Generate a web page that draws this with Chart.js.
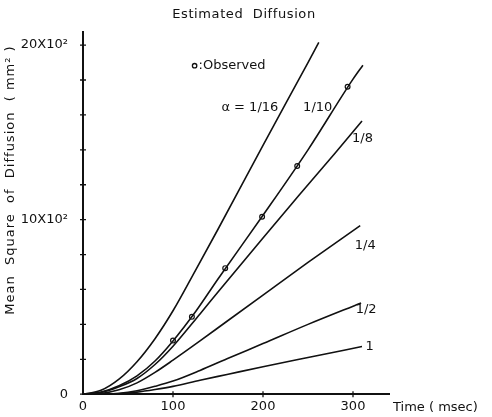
<!DOCTYPE html>
<html>
<head>
<meta charset="utf-8">
<script src="https://cdn.jsdelivr.net/npm/chart.js@4.4.1/dist/chart.umd.min.js"></script>
<style>
  body { margin: 0; background: #fff; }
  canvas { display: block; }
</style>
</head>
<body>
<canvas id="diffusion" width="492" height="417"></canvas>
<script>
// time in msec, mean square of diffusion in mm^2
const tAlpha16 = [0, 20, 40, 60, 80, 100, 125, 150, 200, 250, 262]
const vAlpha16 = [0, 22, 86, 186, 318, 478, 710, 945, 1425, 1900, 2015]

const tAlpha10 = [0, 20, 40, 60, 80, 100, 125, 150, 200, 250, 300, 311]
const vAlpha10 = [0, 12, 48, 105, 190, 305, 472, 660, 1025, 1400, 1805, 1885]

const tAlpha8 = [0, 20, 40, 60, 80, 100, 130, 150, 200, 240, 280, 310]
const vAlpha8 = [0, 10, 42, 90, 170, 275, 460, 585, 895, 1140, 1380, 1565]

const tAlpha4 = [0, 20, 40, 60, 80, 100, 130, 160, 200, 250, 308]
const vAlpha4 = [0, 4, 25, 65, 125, 195, 305, 418, 568, 755, 966]

const tAlpha2 = [0, 20, 40, 60, 80, 100, 130, 160, 200, 250, 309]
const vAlpha2 = [0, 0, 5, 20, 45, 75, 136, 203, 290, 400, 523]

const tAlpha1 = [0, 20, 40, 60, 80, 100, 130, 160, 200, 250, 310]
const vAlpha1 = [0, 0, 3, 12, 27, 45, 80, 113, 157, 210, 273]

const tObserved = [100, 121, 158, 199, 238, 294]
const vObserved = [307, 443, 722, 1017, 1307, 1761]

const xTicks = [0, 100, 200, 300]
const yTicks = [0, 200, 400, 600, 800, 1000, 1200, 1400, 1600, 1800, 2000]
const yTickLabels = {0: '0', 1000: '10X10\u00b2', 2000: '20X10\u00b2'}

const curveLabels = ['\u03b1 = 1/16', '1/10', '1/8', '1/4', '1/2', '1']
// where each curve label sits, in data units
const labelSpots = [
  {t: 217, v: 1643, align: 'right'},
  {t: 277, v: 1643, align: 'right'},
  {t: 299, v: 1462, align: 'left'},
  {t: 302, v: 853, align: 'left'},
  {t: 303, v: 483, align: 'left'},
  {t: 314, v: 273, align: 'left'},
]
const legendSpot = {t: 124, v: 1882}

const FONT = '"DejaVu Sans", sans-serif'
const INK = '#111'

function pairs(ts, vs) {
  return ts.map((t, i) => ({x: t, y: vs[i]}))
}

function curve(ts, vs) {
  return {
    data: pairs(ts, vs),
    borderColor: INK,
    borderWidth: 1.6,
    pointRadius: 0,
    fill: false,
    cubicInterpolationMode: 'monotone',
  }
}

const decorations = {
  id: 'decorations',
  afterDraw(chart) {
    const ctx = chart.ctx
    const {x, y} = chart.scales
    const area = chart.chartArea
    ctx.save()
    ctx.strokeStyle = INK
    ctx.fillStyle = INK
    ctx.lineWidth = 1.3

    // cross ticks on both axes
    ctx.beginPath()
    yTicks.forEach(v => {
      const py = y.getPixelForValue(v)
      ctx.moveTo(area.left - 3, py)
      ctx.lineTo(area.left + 3, py)
    })
    xTicks.slice(1).forEach(t => {
      const px = x.getPixelForValue(t)
      ctx.moveTo(px, area.bottom - 3)
      ctx.lineTo(px, area.bottom + 3)
    })
    ctx.stroke()

    ctx.font = '13px ' + FONT
    ctx.textBaseline = 'middle'

    // title
    ctx.save()
    ctx.textAlign = 'center'
    ctx.letterSpacing = '0.6px'
    ctx.fillText('Estimated  Diffusion', 244, 15)
    ctx.restore()

    // y axis title
    ctx.save()
    ctx.translate(11, 180)
    ctx.rotate(-Math.PI / 2)
    ctx.textAlign = 'center'
    ctx.letterSpacing = '1px'
    ctx.fillText('Mean  Square  of  Diffusion  ( mm\u00b2 )', 0, 0)
    ctx.restore()

    // x axis title
    ctx.textAlign = 'left'
    ctx.fillText('Time ( msec)', area.right + 4, area.bottom + 13)

    // curve labels
    curveLabels.forEach((txt, i) => {
      const s = labelSpots[i]
      ctx.textAlign = s.align
      ctx.fillText(txt, x.getPixelForValue(s.t), y.getPixelForValue(s.v))
    })

    // legend for observed points
    const lx = x.getPixelForValue(legendSpot.t)
    const ly = y.getPixelForValue(legendSpot.v)
    ctx.beginPath()
    ctx.arc(lx, ly, 2.2, 0, Math.PI * 2)
    ctx.stroke()
    ctx.textAlign = 'left'
    ctx.fillText(':Observed', lx + 4, ly)
    ctx.restore()
  }
}

new Chart(document.getElementById('diffusion'), {
  type: 'line',
  data: {
    datasets: [
      curve(tAlpha16, vAlpha16),
      curve(tAlpha10, vAlpha10),
      curve(tAlpha8, vAlpha8),
      curve(tAlpha4, vAlpha4),
      curve(tAlpha2, vAlpha2),
      curve(tAlpha1, vAlpha1),
      {
        data: pairs(tObserved, vObserved),
        showLine: false,
        pointRadius: 2.4,
        pointBorderWidth: 1.2,
        pointBackgroundColor: '#fff',
        pointBorderColor: INK,
      },
    ]
  },
  options: {
    responsive: false,
    animation: false,
    layout: {padding: {left: 0, top: 32, right: 103, bottom: 0}},
    plugins: {legend: {display: false}, tooltip: {enabled: false}},
    scales: {
      x: {
        type: 'linear',
        min: 0,
        max: 340,
        afterBuildTicks: s => { s.ticks = xTicks.map(v => ({value: v})) },
        afterFit: s => { s.height = 20 },
        grid: {display: false, drawTicks: false},
        border: {display: true, color: INK, width: 2},
        ticks: {color: INK, padding: 5, autoSkip: false, maxRotation: 0, font: {family: FONT, size: 13}},
      },
      y: {
        type: 'linear',
        min: 0,
        max: 2075,
        afterBuildTicks: s => { s.ticks = yTicks.map(v => ({value: v})) },
        afterFit: s => { s.width = 83 },
        grid: {display: false, drawTicks: false},
        border: {display: true, color: INK, width: 2},
        ticks: {
          color: INK,
          padding: 15,
          autoSkip: false,
          font: {family: FONT, size: 13},
          callback: v => yTickLabels[v] || '',
        },
      },
    }
  },
  plugins: [decorations]
})
</script>
</body>
</html>
